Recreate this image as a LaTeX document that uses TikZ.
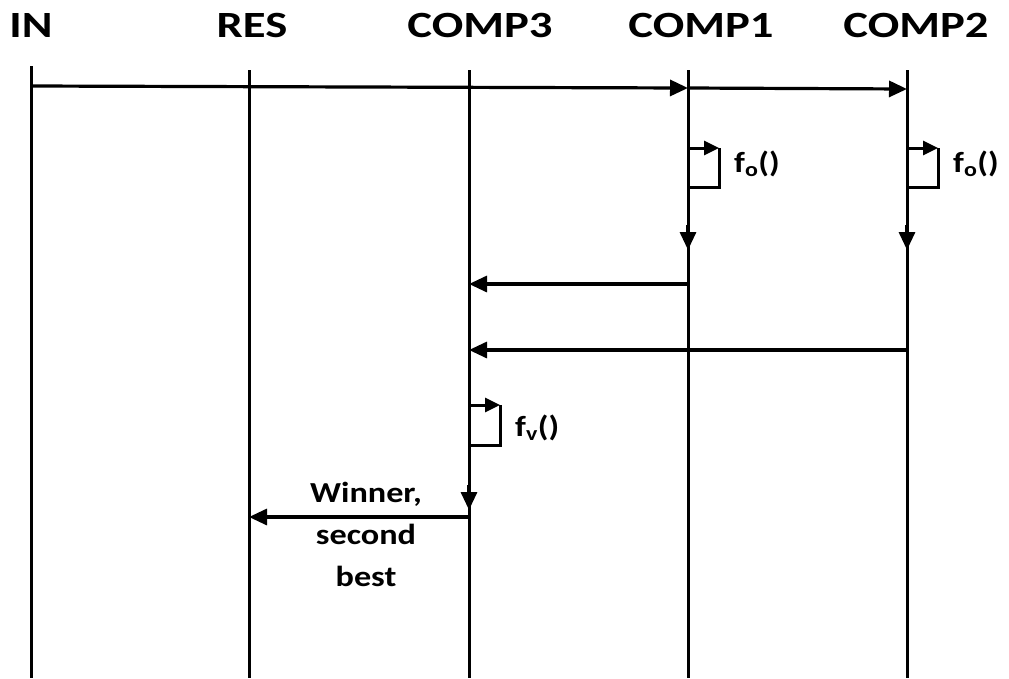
\documentclass[tikz,border=0pt]{standalone}
\usepackage{fontspec}
\setmainfont{Carlito}
\newfontfamily\widefont[FakeStretch=1.26]{Carlito}
\newfontfamily\lblfont[FakeStretch=1.18]{Carlito}
\usetikzlibrary{arrows.meta}
\begin{document}
\begin{tikzpicture}[x=1pt,y=-1pt,
  lifeline/.style={line width=3pt},
  msg/.style={line width=3.2pt,-{Triangle[length=18pt,width=16pt]}},
  smsg/.style={line width=3pt,-{Triangle[length=15pt,width=14pt]}},
  selfbox/.style={line width=3pt},
  hdr/.style={font=\widefont\fontsize{37}{37}\selectfont\bfseries,inner sep=0pt,anchor=base},
  lbl/.style={font=\lblfont\fontsize{29}{42}\selectfont\bfseries,inner sep=0pt,align=center}]
\useasboundingbox (0,0) rectangle (1009,678);
% headers
\node[hdr] (hIN) at (31,37) {IN};
\node[hdr] (hRES) at (252,37) {RES};
\node[hdr] (hC3) at (480,37) {COMP3};
\node[hdr] (hC1) at (701,37) {COMP1};
\node[hdr] (hC2) at (916,37) {COMP2};
% lifelines
\coordinate (tIN) at (31,66);   \coordinate (bIN) at (31,678);
\coordinate (tRES) at (249,70); \coordinate (bRES) at (249,678);
\coordinate (tC3) at (469,70);  \coordinate (bC3) at (469,678);
\coordinate (tC1) at (688,70);  \coordinate (bC1) at (688,678);
\coordinate (tC2) at (907,70);  \coordinate (bC2) at (907,678);
\foreach \n in {IN,RES,C3,C1,C2} \draw[lifeline] (t\n) -- (b\n);
% initial messages
\coordinate (m1s) at (31,86);  \coordinate (m1e) at (688,88);
\coordinate (m2s) at (688,88); \coordinate (m2e) at (907,89);
\draw[msg] (m1s) -- (m1e);
\draw[msg] (m2s) -- (m2e);
% self call COMP1
\coordinate (s1a) at (688,148); \coordinate (s1b) at (719,148);
\coordinate (s1c) at (719,187); \coordinate (s1d) at (688,187);
\draw[smsg] (s1a) -- (s1b);
\draw[selfbox] (s1b) -- (s1c) -- (s1d);
\node[lbl,anchor=west] (fo1) at (734,164) {f\textsubscript{o}()};
\coordinate (d1a) at (688,225); \coordinate (d1b) at (688,250);
\draw[msg] (d1a) -- (d1b);
% self call COMP2
\coordinate (s2a) at (907,148); \coordinate (s2b) at (938,148);
\coordinate (s2c) at (938,187); \coordinate (s2d) at (907,187);
\draw[smsg] (s2a) -- (s2b);
\draw[selfbox] (s2b) -- (s2c) -- (s2d);
\node[lbl,anchor=west] (fo2) at (953,164) {f\textsubscript{o}()};
\coordinate (d2a) at (907,225); \coordinate (d2b) at (907,250);
\draw[msg] (d2a) -- (d2b);
% replies to COMP3
\coordinate (r1s) at (688,284); \coordinate (r1e) at (469,284);
\draw[msg] (r1s) -- (r1e);
\coordinate (r2s) at (907,350); \coordinate (r2e) at (469,350);
\draw[msg] (r2s) -- (r2e);
% self call COMP3
\coordinate (s3a) at (469,405); \coordinate (s3b) at (500,405);
\coordinate (s3c) at (500,445); \coordinate (s3d) at (469,445);
\draw[smsg] (s3a) -- (s3b);
\draw[selfbox] (s3b) -- (s3c) -- (s3d);
\node[lbl,anchor=west] (fv) at (515,428) {f\textsubscript{v}()};
\coordinate (d3a) at (469,485); \coordinate (d3b) at (469,510);
\draw[msg] (d3a) -- (d3b);
% result
\coordinate (w1s) at (469,517); \coordinate (w1e) at (249,517);
\draw[msg] (w1s) -- (w1e);
\node[lbl] (win) at (366,534) {Winner,\\second\\best};
\end{tikzpicture}
\end{document}
